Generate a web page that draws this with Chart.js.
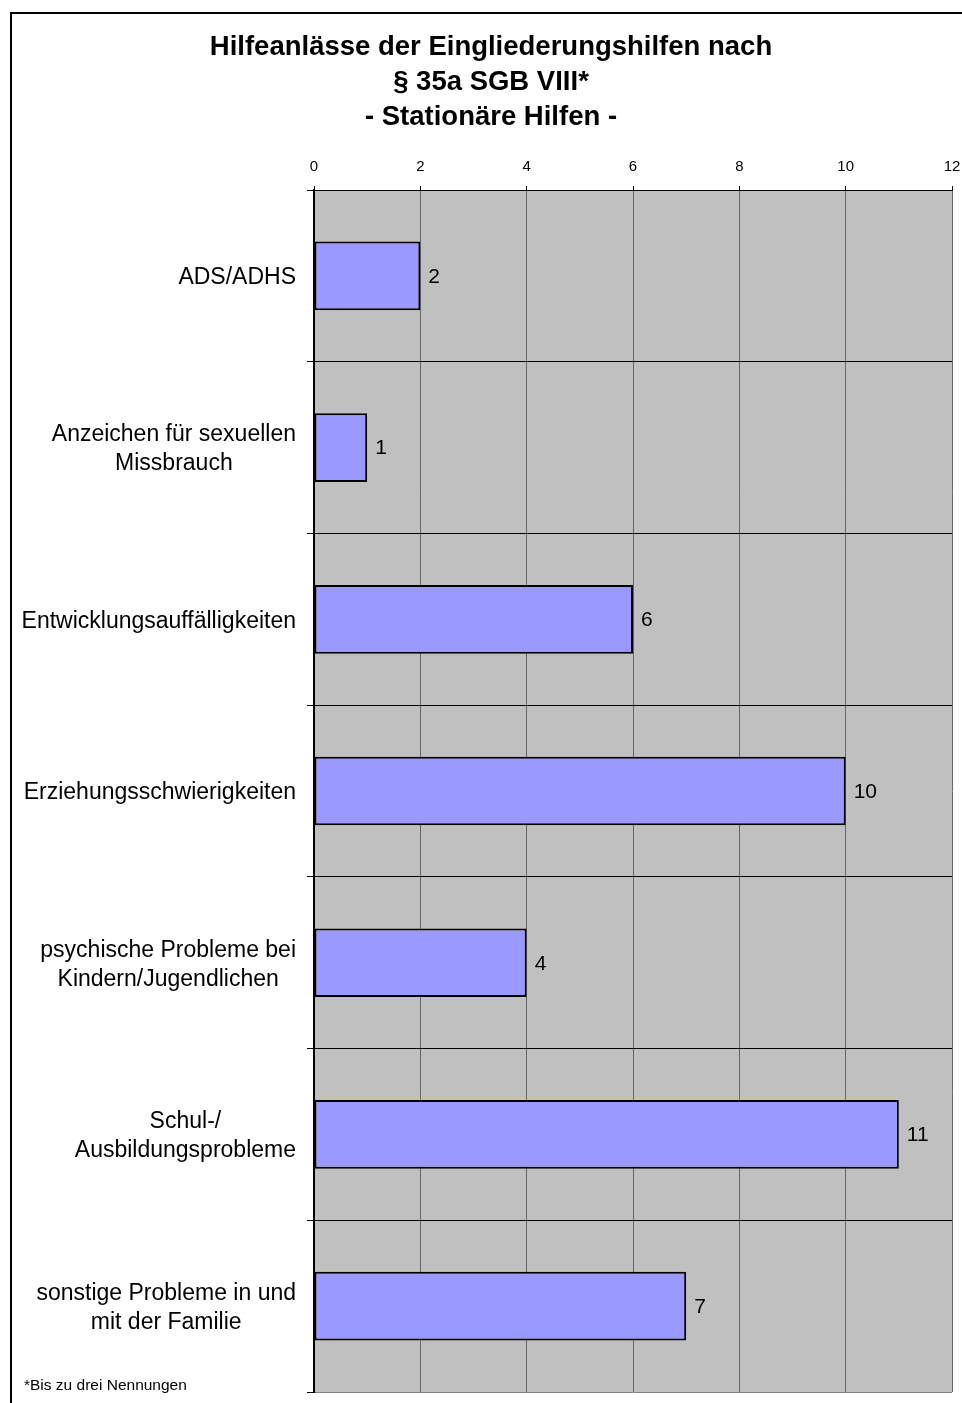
<!DOCTYPE html>
<html>
<head>
<meta charset="utf-8">
<script src="https://cdn.jsdelivr.net/npm/chart.js@4"></script>
<style>
  html, body { margin: 0; padding: 0; background: #fff; overflow: hidden; }
  canvas { display: block; }
</style>
</head>
<body>
<canvas id="chart" width="962" height="1403"></canvas>
<script>
const categories = [
  ["ADS/ADHS"],
  ["Anzeichen für sexuellen", "Missbrauch"],
  ["Entwicklungsauffälligkeiten"],
  ["Erziehungsschwierigkeiten"],
  ["psychische Probleme bei", "Kindern/Jugendlichen"],
  ["Schul-/", "Ausbildungsprobleme"],
  ["sonstige Probleme in und", "mit der Familie"]
];
const values = [2, 1, 6, 10, 4, 11, 7];
const titleLines = ["Hilfeanlässe der Eingliederungshilfen nach", "§ 35a SGB VIII*", "- Stationäre Hilfen -"];
const footnote = "*Bis zu drei Nennungen";

const FONT = "'Liberation Sans', Arial, sans-serif";

// grey plot area, outer frame, category labels, value labels, footnote
const decorations = {
  id: "decorations",
  beforeDraw(chart) {
    const { ctx, chartArea } = chart;
    ctx.save();
    ctx.fillStyle = "#c0c0c0";
    ctx.fillRect(chartArea.left, chartArea.top, chartArea.right - chartArea.left, chartArea.bottom - chartArea.top);
    ctx.strokeStyle = "#000";
    ctx.lineWidth = 2;
    ctx.strokeRect(11, 13, 1000, 1500);
    ctx.restore();
  },
  afterDraw(chart) {
    const { ctx } = chart;
    const yScale = chart.scales.y;
    ctx.save();
    ctx.fillStyle = "#000";
    ctx.font = "23px " + FONT;
    ctx.textAlign = "center";
    ctx.textBaseline = "middle";
    const lh = 29;
    categories.forEach((lines, i) => {
      const w = Math.max(...lines.map(l => ctx.measureText(l).width));
      const cx = 296 - w / 2;
      const cy = yScale.getPixelForValue(i) + 2;
      lines.forEach((l, j) => {
        ctx.fillText(l, cx, cy + (j - (lines.length - 1) / 2) * lh);
      });
    });

    ctx.font = "21px " + FONT;
    ctx.textAlign = "left";
    chart.getDatasetMeta(0).data.forEach((bar, i) => {
      ctx.fillText(String(values[i]), bar.x + 8, bar.y + 1);
    });

    ctx.font = "15.5px " + FONT;
    ctx.fillText(footnote, 24, 1386);
    ctx.restore();
  }
};

new Chart(document.getElementById("chart"), {
  type: "bar",
  data: {
    labels: categories,
    datasets: [{
      data: values,
      backgroundColor: "#9999ff",
      borderColor: "#000",
      borderWidth: 2,
      borderSkipped: false,
      barPercentage: 0.4,
      categoryPercentage: 1
    }]
  },
  options: {
    indexAxis: "y",
    responsive: false,
    animation: false,
    layout: { padding: { left: 30, right: 10, top: 30, bottom: 11 } },
    plugins: {
      legend: { display: false },
      tooltip: { enabled: false },
      title: {
        display: true,
        text: titleLines,
        color: "#000",
        font: { family: FONT, size: 27.5, weight: "bold", lineHeight: 1.273 },
        padding: { top: 0, bottom: 0 }
      }
    },
    scales: {
      x: {
        position: "top",
        min: 0,
        max: 12,
        ticks: { stepSize: 2, color: "#000", font: { family: FONT, size: 15 }, padding: 10 },
        grid: { color: "#666", lineWidth: 1, tickLength: 4, tickColor: "#000" },
        border: { color: "#000", width: 1 },
        afterFit(scale) {
          scale.height = 55;
          scale.paddingLeft = 0;
          scale.paddingRight = 0;
        }
      },
      y: {
        offset: true,
        ticks: { display: false },
        grid: {
          offset: true,
          color: c => (c.index === undefined || c.index >= 7) ? "#808080" : "#000",
          lineWidth: 1,
          tickLength: 7,
          tickColor: "#000"
        },
        border: { color: "#000", width: 2 },
        afterFit(scale) {
          scale.width = 284;
          scale.paddingTop = 0;
          scale.paddingBottom = 0;
        }
      }
    }
  },
  plugins: [decorations]
});
</script>
</body>
</html>
